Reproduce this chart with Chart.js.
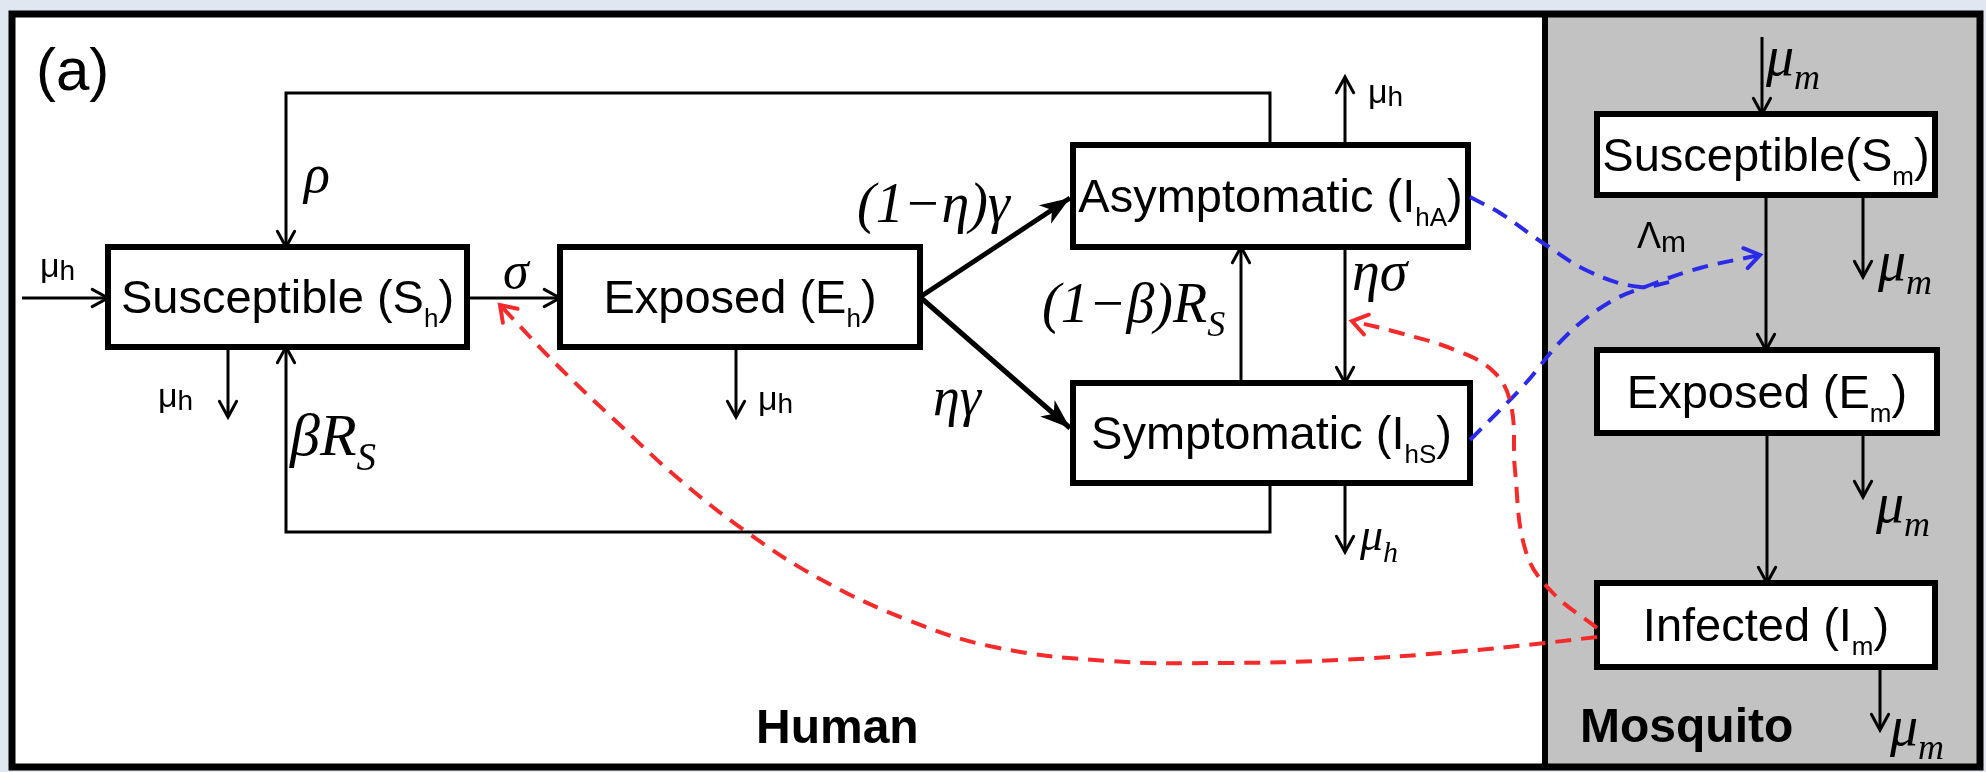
<!DOCTYPE html>
<html>
<head>
<meta charset="utf-8">
<script src="https://cdn.jsdelivr.net/npm/chart.js@4.4.1/dist/chart.umd.min.js"></script>
<style>
  html, body { margin: 0; padding: 0; background: #dfe8f1; }
  canvas { display: block; }
</style>
</head>
<body>
<canvas id="diagram" width="1986" height="772"></canvas>
<script>
// compartments (diagram units: x right, y down)
var boxNames = ["Sh", "Eh", "IhA", "IhS", "Sm", "Em", "Im"]
var boxLabels = ["Susceptible (S_{h})", "Exposed (E_{h})", "Asymptomatic (I_{hA})",
  "Symptomatic (I_{hS})", "Susceptible(S_{m})", "Exposed (E_{m})", "Infected (I_{m})"]
var boxLeft = [108, 560, 1073, 1073, 1597, 1597, 1597]
var boxTop = [247, 247, 145, 383, 114, 350, 583]
var boxRight = [467, 920, 1468, 1470, 1935, 1937, 1935]
var boxBottom = [347, 347, 247, 483, 195, 433, 667]

// flows between compartments
var flowPaths = [
  [[22, 298], [108, 298]],                               // mu_h birth
  [[1270, 145], [1270, 93], [286, 93], [286, 247]],      // rho
  [[467, 298], [560, 298]],                              // sigma
  [[228, 347], [228, 417]],                              // mu_h
  [[1270, 483], [1270, 532], [286, 532], [286, 347]],    // beta R_S
  [[736, 347], [736, 417]],                              // mu_h
  [[920, 297], [1070, 198]],                             // (1-eta) gamma
  [[920, 297], [1070, 428]],                             // eta gamma
  [[1345, 145], [1345, 77]],                             // mu_h
  [[1241, 383], [1241, 247]],                            // (1-beta) R_S
  [[1345, 247], [1345, 383]],                            // eta sigma
  [[1345, 483], [1345, 552]],                            // mu_h
  [[1762, 37], [1762, 114]],                             // mu_m
  [[1766, 195], [1766, 350]],
  [[1863, 195], [1863, 277]],
  [[1767, 433], [1767, 583]],
  [[1863, 433], [1863, 497]],
  [[1880, 667], [1880, 730]]
]
var flowKind = ["thin", "thin", "thin", "thin", "thin", "thin", "thick", "thick",
  "thin", "thin", "thin", "thin", "thin", "thin", "thin", "thin", "thin", "thin"]

// infection links (dashed)
var linkPaths = [
  [[1597, 637], [1545, 643], [1454, 652], [1339, 660], [1224, 663], [1109, 661], [994, 647],
   [908, 620], [822, 580], [748, 533], [680, 480], [620, 425], [560, 368], [500, 305]],
  [[1597, 628], [1552, 592], [1526, 552], [1515, 470], [1511, 405], [1494, 372],
   [1455, 350], [1400, 333], [1352, 321]],
  [[1470, 197], [1500, 213], [1543, 243], [1590, 272], [1640, 287], [1670, 282]],
  [[1470, 440], [1496, 414], [1525, 384], [1567, 335], [1610, 302], [1650, 285],
   [1700, 268], [1760, 255]]
]
var linkColor = ["#f52a2a", "#f52a2a", "#2a2ae8", "#2a2ae8"]
var linkArrow = [true, true, false, true]

// rate labels
var labelText = ["(a)", "μ_{h}", "ρ", "σ", "μ_{h}", "βR_{S}", "μ_{h}", "(1−η)γ", "ηγ",
  "μ_{h}", "(1−β)R_{S}", "ησ", "μ_{h}", "Λ_{m}", "μ_{m}", "μ_{m}", "μ_{m}", "μ_{m}",
  "Human", "Mosquito"]
var labelX = [36, 40, 304, 503, 158, 290, 758, 857, 933, 1368, 1042, 1352, 1360, 1637,
  1766, 1878, 1876, 1890, 756, 1580]
var labelY = [90, 277, 192, 288, 407, 455, 410, 222, 415, 103, 322, 290, 550, 248,
  75, 280, 522, 745, 743, 742]
var labelStyle = ["sans", "sans", "serif", "serif", "sans", "serif", "sans", "serif", "serif",
  "sans", "serif", "serif", "serif", "sans", "serif", "serif", "serif", "serif", "bold", "bold"]
var labelSize = [60, 34, 54, 52, 34, 60, 34, 56, 54, 34, 56, 56, 46, 36, 56, 56, 56, 56, 48, 48]

var fonts = {
  sans: "{s}px 'Liberation Sans', Arial, sans-serif",
  serif: "italic {s}px 'Liberation Serif', 'Times New Roman', serif",
  bold: "bold {s}px 'Liberation Sans', Arial, sans-serif",
  box: "{s}px 'Liberation Sans', Arial, sans-serif"
}

function richParts(str) {
  var parts = []
  var re = /_\{([^}]*)\}/g
  var last = 0
  var m
  while ((m = re.exec(str)) !== null) {
    if (m.index > last) parts.push({ t: str.slice(last, m.index), sub: false })
    parts.push({ t: m[1], sub: true })
    last = re.lastIndex
  }
  if (last < str.length) parts.push({ t: str.slice(last), sub: false })
  return parts
}

function drawRich(ctx, str, x, y, style, size, align) {
  var parts = richParts(str)
  var subScale = 0.65
  var drop = 0.25
  if (style === "sans") { subScale = 0.82; drop = 0.1 }
  if (style === "box") { subScale = 0.55; drop = 0.3 }
  var mainFont = fonts[style].replace("{s}", size)
  var subFont = fonts[style].replace("{s}", Math.round(size * subScale))
  var w = 0
  parts.forEach(function (p) {
    ctx.font = p.sub ? subFont : mainFont
    p.w = ctx.measureText(p.t).width
    w += p.w
  })
  var cx = align === "center" ? x - w / 2 : x
  ctx.textAlign = "left"
  ctx.textBaseline = "alphabetic"
  ctx.fillStyle = "#000000"
  parts.forEach(function (p) {
    ctx.font = p.sub ? subFont : mainFont
    ctx.fillText(p.t, cx, p.sub ? y + size * drop : y)
    cx += p.w
  })
}

function openHead(ctx, x, y, ang, len, spread) {
  ctx.beginPath()
  ctx.moveTo(x - len * Math.cos(ang - spread), y - len * Math.sin(ang - spread))
  ctx.lineTo(x, y)
  ctx.lineTo(x - len * Math.cos(ang + spread), y - len * Math.sin(ang + spread))
  ctx.stroke()
}

function filledHead(ctx, x, y, ang, len, half) {
  var c = Math.cos(ang)
  var s = Math.sin(ang)
  var bx = x - len * c
  var by = y - len * s
  var ix = x - len * 0.72 * c
  var iy = y - len * 0.72 * s
  ctx.beginPath()
  ctx.moveTo(x, y)
  ctx.lineTo(bx - s * half, by + c * half)
  ctx.lineTo(ix, iy)
  ctx.lineTo(bx + s * half, by - c * half)
  ctx.closePath()
  ctx.fill()
}

var datasets = []
flowPaths.forEach(function (path, i) {
  datasets.push({
    data: path.map(function (p) { return { x: p[0], y: p[1] } }),
    showLine: true,
    borderColor: "#000000",
    borderWidth: flowKind[i] === "thick" ? 5 : 3,
    borderJoinStyle: "miter",
    pointRadius: 0,
    tension: 0,
    arrow: flowKind[i]
  })
})
linkPaths.forEach(function (path, i) {
  datasets.push({
    data: path.map(function (p) { return { x: p[0], y: p[1] } }),
    showLine: true,
    borderColor: linkColor[i],
    borderWidth: 4,
    borderDash: [16, 10],
    pointRadius: 0,
    tension: 0.4,
    arrow: linkArrow[i] ? "link" : null
  })
})

var backdrop = {
  id: "backdrop",
  beforeDraw: function (chart) {
    var ctx = chart.ctx
    var X = chart.scales.x
    var Y = chart.scales.y
    ctx.save()
    ctx.fillStyle = "#dfe8f1"
    ctx.fillRect(0, 0, chart.width, chart.height)
    ctx.fillStyle = "#ffffff"
    ctx.fillRect(X.getPixelForValue(12), Y.getPixelForValue(14),
      X.getPixelForValue(1980) - X.getPixelForValue(12), Y.getPixelForValue(767) - Y.getPixelForValue(14))
    ctx.fillStyle = "#c2c2c2"
    ctx.fillRect(X.getPixelForValue(1545), Y.getPixelForValue(14),
      X.getPixelForValue(1980) - X.getPixelForValue(1545), Y.getPixelForValue(767) - Y.getPixelForValue(14))
    ctx.strokeStyle = "#000000"
    ctx.lineWidth = 7
    ctx.strokeRect(X.getPixelForValue(12), Y.getPixelForValue(14),
      X.getPixelForValue(1980) - X.getPixelForValue(12), Y.getPixelForValue(767) - Y.getPixelForValue(14))
    ctx.lineWidth = 6
    ctx.beginPath()
    ctx.moveTo(X.getPixelForValue(1545), Y.getPixelForValue(14))
    ctx.lineTo(X.getPixelForValue(1545), Y.getPixelForValue(767))
    ctx.stroke()
    ctx.restore()
  },
  beforeDatasetsDraw: function (chart) {
    var ctx = chart.ctx
    var X = chart.scales.x
    var Y = chart.scales.y
    ctx.save()
    boxNames.forEach(function (name, i) {
      var l = X.getPixelForValue(boxLeft[i])
      var t = Y.getPixelForValue(boxTop[i])
      var w = X.getPixelForValue(boxRight[i]) - l
      var h = Y.getPixelForValue(boxBottom[i]) - t
      ctx.fillStyle = "#ffffff"
      ctx.fillRect(l, t, w, h)
      ctx.strokeStyle = "#000000"
      ctx.lineWidth = 6
      ctx.strokeRect(l, t, w, h)
      drawRich(ctx, boxLabels[i], l + w / 2, t + h / 2 + 16, "box", 47, "center")
    })
    ctx.restore()
  },
  afterDatasetsDraw: function (chart) {
    var ctx = chart.ctx
    var X = chart.scales.x
    var Y = chart.scales.y
    ctx.save()
    chart.data.datasets.forEach(function (ds, i) {
      if (!ds.arrow) return
      var pts = chart.getDatasetMeta(i).data
      var end = pts[pts.length - 1]
      var prev = pts[pts.length - 2]
      var fx = prev.x
      var fy = prev.y
      if (ds.tension > 0 && end.cp1x !== undefined && Math.hypot(end.x - end.cp1x, end.y - end.cp1y) > 1) {
        fx = end.cp1x
        fy = end.cp1y
      }
      var ang = Math.atan2(end.y - fy, end.x - fx)
      ctx.setLineDash([])
      ctx.strokeStyle = ds.borderColor
      ctx.fillStyle = ds.borderColor
      ctx.lineCap = "round"
      if (ds.arrow === "thick") {
        filledHead(ctx, end.x, end.y, ang, 30, 11)
      } else if (ds.arrow === "link") {
        ctx.lineWidth = 4
        openHead(ctx, end.x, end.y, ang, 18, 0.6)
      } else {
        ctx.lineWidth = 3
        openHead(ctx, end.x, end.y, ang, 18, 0.5)
      }
    })
    labelText.forEach(function (txt, i) {
      drawRich(ctx, txt, X.getPixelForValue(labelX[i]), Y.getPixelForValue(labelY[i]),
        labelStyle[i], labelSize[i], "left")
    })
    ctx.restore()
  }
}

new Chart(document.getElementById("diagram"), {
  type: "scatter",
  data: { datasets: datasets },
  options: {
    responsive: false,
    devicePixelRatio: 1,
    animation: false,
    layout: { padding: 0 },
    plugins: { legend: { display: false }, tooltip: { enabled: false } },
    scales: {
      x: { type: "linear", min: 0, max: 1986, display: false },
      y: { type: "linear", min: 0, max: 772, reverse: true, display: false }
    }
  },
  plugins: [backdrop]
})
</script>
</body>
</html>
